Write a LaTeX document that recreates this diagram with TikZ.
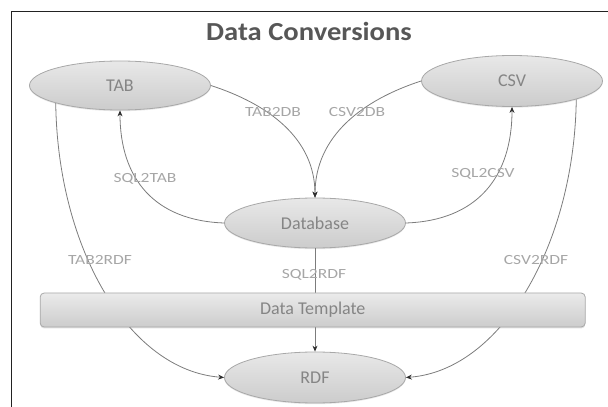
\documentclass[tikz,border=0pt]{standalone}
\usepackage{fontspec}
\setmainfont{Carlito}
\newfontfamily\labelfont[FakeStretch=1.25]{Carlito}
\newfontfamily\titlefont[FakeStretch=1.1]{Carlito}
\usetikzlibrary{shapes.geometric,arrows.meta,shadows}

\definecolor{framecol}{HTML}{222222}
\definecolor{edgecol}{HTML}{7C7C7C}
\definecolor{tipcol}{HTML}{2E2E2E}
\definecolor{bordercol}{HTML}{A8A8A8}
\definecolor{textcol}{HTML}{858585}
\definecolor{labelcol}{HTML}{A6A6A6}
\definecolor{titlecol}{HTML}{575757}

\tikzset{
  format/.style={ellipse, draw=bordercol, line width=0.8pt,
    top color=black!9, bottom color=black!20,
    minimum width=181pt, minimum height=50pt, inner sep=0pt,
    text=textcol, font=\fontsize{18}{21}\selectfont,
    drop shadow={shadow xshift=0pt, shadow yshift=-1.2pt, opacity=0.18}},
  bar/.style={rectangle, rounded corners=4pt, draw=bordercol, line width=0.8pt,
    top color=black!8, bottom color=black!20,
    minimum width=545pt, minimum height=34pt, inner sep=0pt,
    text=textcol, font=\fontsize{18}{21}\selectfont,
    drop shadow={shadow xshift=0pt, shadow yshift=-1.5pt, opacity=0.25}},
  conv/.style={draw=edgecol, line width=0.8pt,
    -{Stealth[length=6pt,width=5pt,color=tipcol]}},
  convlabel/.style={text=labelcol, font=\labelfont\fontsize{14}{16}\selectfont, inner sep=0pt},
}

\begin{document}
\begin{tikzpicture}[x=1pt,y=1pt]
  \useasboundingbox (0,0) rectangle (608,407);

  % open frame: left and top edges
  \coordinate (fbl) at (11.5,0);
  \coordinate (ftl) at (11.5,395.5);
  \coordinate (ftr) at (608,395.5);
  \draw[framecol, line width=1.4pt] (fbl) -- (ftl) -- (ftr);

  % title
  \node[text=titlecol, font=\titlefont\fontsize{26}{30}\selectfont\bfseries] (title) at (309,376) {Data Conversions};

  % formats
  \node[format, minimum height=49pt] (tab) at (120,321.5) {TAB};
  \node[format, minimum height=51pt] (csv) at (512,326) {CSV};
  \node[format] (db)  at (315,184) {Database};
  \node[format, minimum height=51pt] (rdf) at (315,29.5) {RDF};

  % conversions into and out of the database
  \draw[conv] (tab.east) to[out=-18,in=90] (db.north);
  \draw[conv] (csv.west) to[out=198,in=90] (db.north);
  \draw[conv] (db.west) to[out=178,in=-90,looseness=1.15] (tab.south);
  \draw[conv] (db.east) to[out=2,in=-90,looseness=1.15] (csv.south);

  % conversions to RDF, passing behind the template bar
  \draw[conv] (tab.south west) .. controls +(2,-146) and +(-95,7) .. (rdf.west);
  \draw[conv] (csv.south east) .. controls +(-2,-146) and +(95,7) .. (rdf.east);
  \draw[conv] (db.south) -- (rdf.north);

  % template bar
  \node[bar] (tpl) at (312.7,97) {Data Template};

  % conversion labels
  \node[convlabel] (l1) at (273,295) {TAB2DB};
  \node[convlabel] (l2) at (357,295) {CSV2DB};
  \node[convlabel] (l3) at (145,228) {SQL2TAB};
  \node[convlabel] (l4) at (483,233) {SQL2CSV};
  \node[convlabel] (l5) at (100,147) {TAB2RDF};
  \node[convlabel] (l6) at (536,147) {CSV2RDF};
  \node[convlabel] (l7) at (314,132) {SQL2RDF};
\end{tikzpicture}
\end{document}
